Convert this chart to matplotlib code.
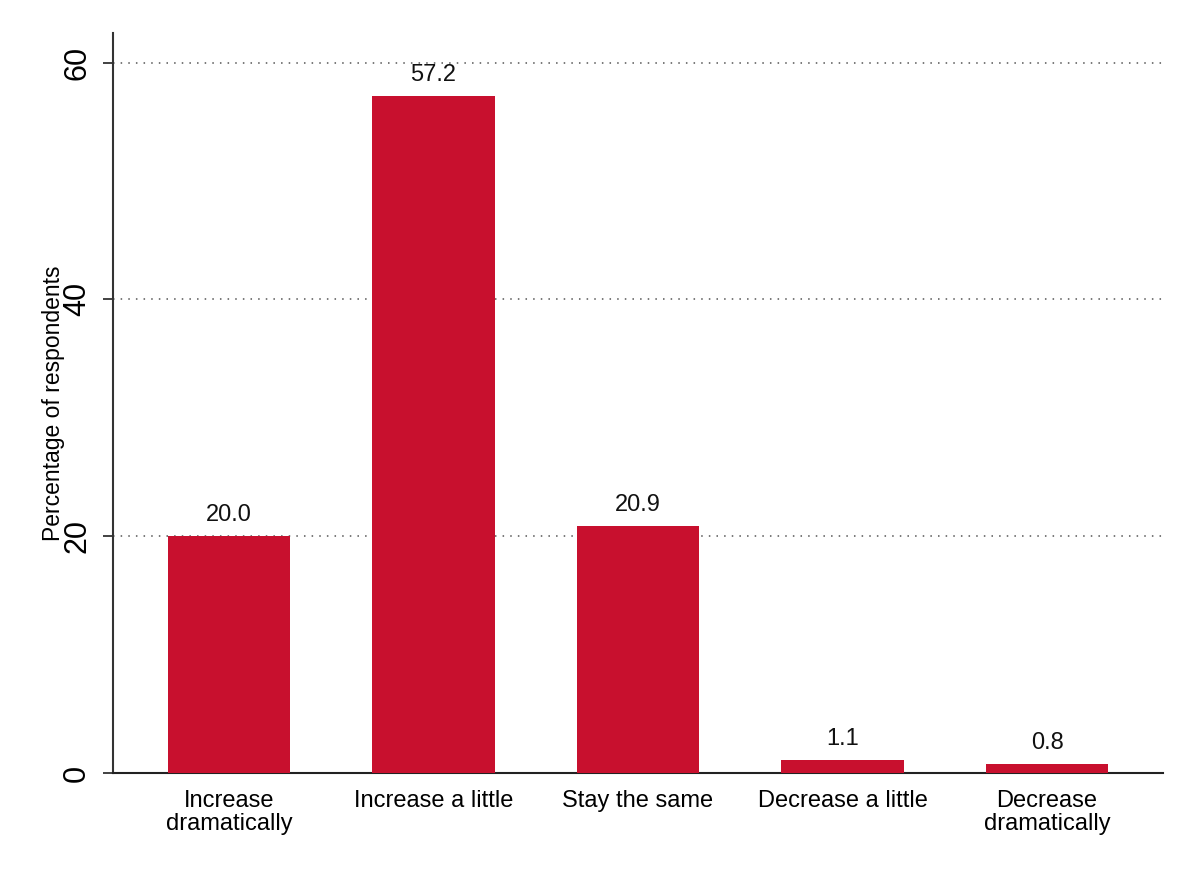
import matplotlib.pyplot as plt

categories = ['Increase\ndramatically', 'Increase a little', 'Stay the same',
              'Decrease a little', 'Decrease\ndramatically']
values = [20.0, 57.2, 20.9, 1.1, 0.8]
yticks = [0, 20, 40, 60]

plt.rcParams['font.family'] = ['Liberation Sans', 'DejaVu Sans']

fig = plt.figure(figsize=(11.93, 8.69), dpi=100)
ax = fig.add_axes([113 / 1193, 1 - 773 / 869, 1050 / 1193, 740 / 869])

x = range(len(categories))
bars = ax.bar(x, values, width=0.6, color='#C8102E', zorder=3)

for xi, v in zip(x, values):
    ax.annotate(f'{v:.1f}', (xi, v), xytext=(0, 7), textcoords='offset points',
                ha='center', va='bottom', fontsize=17, color='#111111')

ax.set_xlim(-0.567, 4.567)
ax.set_ylim(0, 62.5)
ax.set_yticks(yticks)
ax.set_yticklabels([str(t) for t in yticks], rotation=90, va='center', fontsize=22)
ax.set_xticks(list(x))
ax.set_xticklabels(categories, fontsize=17, linespacing=1.1)
ax.tick_params(axis='x', length=0, pad=12)
ax.tick_params(axis='y', length=7, width=1.3, color='#333333', pad=8)

ax.set_ylabel('Percentage of respondents', fontsize=16.5, labelpad=-2)

ax.yaxis.grid(True, linestyle=(0, (1, 4)), color='#555555', linewidth=1.1, zorder=0)

for side in ['top', 'right']:
    ax.spines[side].set_visible(False)
ax.spines['left'].set_color('#333333')
ax.spines['left'].set_linewidth(1.5)
ax.spines['bottom'].set_color('#222222')
ax.spines['bottom'].set_linewidth(1.5)

plt.savefig('out.png', dpi=100)
